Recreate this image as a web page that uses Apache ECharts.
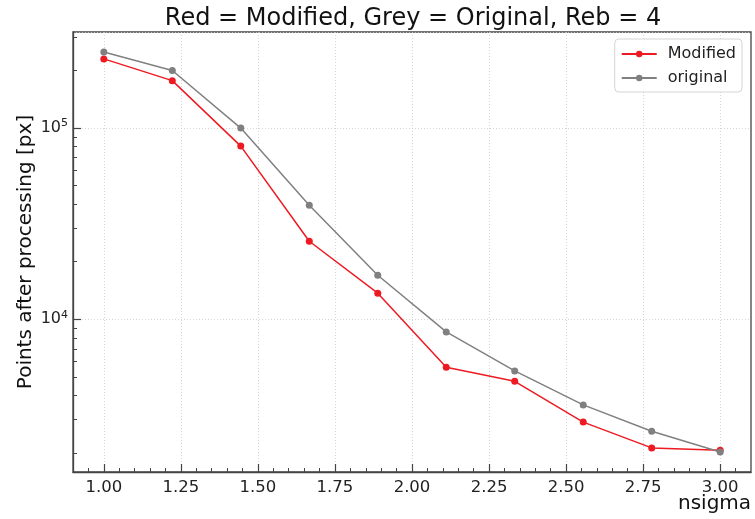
<!DOCTYPE html>
<html>
<head>
<meta charset="utf-8">
<script src="https://cdn.jsdelivr.net/npm/echarts@6/dist/echarts.min.js"></script>
<style>
  html, body { margin: 0; padding: 0; background: #fff; }
  #main { width: 755px; height: 519px; }
</style>
</head>
<body>
<div id="main"></div>
<script>
// nsigma values (x)
var nsigma = [1.0, 1.2222, 1.4444, 1.6667, 1.8889, 2.1111, 2.3333, 2.5556, 2.7778, 3.0];
// points after processing
var modified = [230000, 177000, 80500, 25600, 13700, 5610, 4740, 2900, 2125, 2065];
var original = [250000, 200000, 100000, 39500, 17000, 8590, 5370, 3566, 2597, 2023];
// ticks
var xMajor = [1.0, 1.25, 1.5, 1.75, 2.0, 2.25, 2.5, 2.75, 3.0];
var xMinor = [0.95, 1.05, 1.1, 1.15, 1.2, 1.3, 1.35, 1.4, 1.45, 1.55, 1.6, 1.65, 1.7,
  1.8, 1.85, 1.9, 1.95, 2.05, 2.1, 2.15, 2.2, 2.3, 2.35, 2.4, 2.45, 2.55, 2.6, 2.65, 2.7,
  2.8, 2.85, 2.9, 2.95, 3.05];
var yMinor = [2000, 3000, 4000, 5000, 6000, 7000, 8000, 9000,
  20000, 30000, 40000, 50000, 60000, 70000, 80000, 90000, 200000, 300000];

var xMin = 0.9, xMax = 3.1;
var yMin = 1590, yMax = 318000;

var axisColor = '#444';
var font = 'DejaVu Sans';

function pairs(xs, ys) {
  var out = [];
  for (var i = 0; i < xs.length; i++) out.push([xs[i], ys[i]]);
  return out;
}

var chart = echarts.init(document.getElementById('main'));
var option = {
  backgroundColor: '#fff',
  animation: false,
  textStyle: { fontFamily: font },
  title: {
    text: 'Red = Modified, Grey = Original, Reb = 4',
    left: 408,
    textAlign: 'center',
    top: 2,
    textStyle: { fontFamily: font, fontSize: 24, fontWeight: 'normal', color: '#111' }
  },
  legend: {
    orient: 'vertical',
    right: 13,
    top: 39,
    padding: [7, 6, 6, 6],
    itemWidth: 35,
    itemHeight: 8,
    itemGap: 8,
    backgroundColor: 'rgba(255,255,255,0.85)',
    borderColor: '#d5d5d5',
    borderWidth: 1,
    borderRadius: 4,
    textStyle: { fontFamily: font, fontSize: 16, color: '#222', padding: [0, 0, 0, 6] },
    data: ['Modified', 'original']
  },
  grid: {
    left: 73, right: 4, top: 32, bottom: 47,
    outerBoundsMode: 'none',
    show: true, borderColor: axisColor, borderWidth: 1.3, backgroundColor: 'transparent'
  },
  xAxis: [{
    type: 'value', min: xMin, max: xMax, position: 'bottom',
    name: 'nsigma', nameLocation: 'end', nameGap: -73, nameMoveOverlap: false,
    nameTextStyle: { fontFamily: font, fontSize: 20, color: '#111', verticalAlign: 'top', padding: [22, 0, 0, 0] },
    axisLine: { lineStyle: { color: axisColor, width: 1.3 } },
    axisTick: { inside: true, length: 8, customValues: xMajor, lineStyle: { color: axisColor, width: 1.2 } },
    axisLabel: { customValues: xMajor, margin: 7, fontSize: 16.5, color: '#222', fontFamily: font,
      formatter: function (v) { return v.toFixed(2); } },
    splitLine: { show: true, lineStyle: { color: '#ccc', type: [1, 2], width: 0.8 } }
  }, {
    type: 'value', min: xMin, max: xMax, position: 'bottom',
    axisLine: { show: false },
    axisTick: { inside: true, length: 4, customValues: xMinor, lineStyle: { color: axisColor, width: 1 } },
    axisLabel: { show: false },
    splitLine: { show: false }
  }],
  yAxis: [{
    type: 'log', logBase: 10, min: yMin, max: yMax, position: 'left',
    name: 'Points after processing [px]', nameLocation: 'middle', nameGap: 37, nameMoveOverlap: false,
    nameTextStyle: { fontFamily: font, fontSize: 20, color: '#111' },
    axisLine: { lineStyle: { color: axisColor, width: 1.3 } },
    axisTick: { inside: true, length: 8, lineStyle: { color: axisColor, width: 1.2 } },
    axisLabel: {
      margin: 5, showMinLabel: false, showMaxLabel: false,
      formatter: function (v) {
        return '{b|10}{s|' + Math.round(Math.log10(v)) + '}';
      },
      rich: {
        b: { fontSize: 16, color: '#222', fontFamily: font },
        s: { fontSize: 11, color: '#222', fontFamily: font, padding: [0, 0, 9, 0] }
      }
    },
    splitLine: { show: true, lineStyle: { color: '#ccc', type: [1, 2], width: 0.8 } }
  }, {
    type: 'value', min: Math.log10(yMin), max: Math.log10(yMax), position: 'left',
    axisLine: { show: false },
    axisTick: { inside: true, length: 4, customValues: yMinor.map(function (v) { return Math.log10(v); }),
      lineStyle: { color: axisColor, width: 1 } },
    axisLabel: { show: false },
    splitLine: { show: false }
  }],
  series: [{
    name: 'Modified', type: 'line', xAxisIndex: 0, yAxisIndex: 0,
    data: pairs(nsigma, modified),
    symbol: 'circle', symbolSize: 7,
    lineStyle: { color: '#ee1a22', width: 1.5 },
    itemStyle: { color: '#ee1a22' }
  }, {
    name: 'original', type: 'line', xAxisIndex: 0, yAxisIndex: 0,
    data: pairs(nsigma, original),
    symbol: 'circle', symbolSize: 7,
    lineStyle: { color: '#808080', width: 1.5 },
    itemStyle: { color: '#808080' }
  }]
};
chart.setOption(option);
</script>
</body>
</html>
